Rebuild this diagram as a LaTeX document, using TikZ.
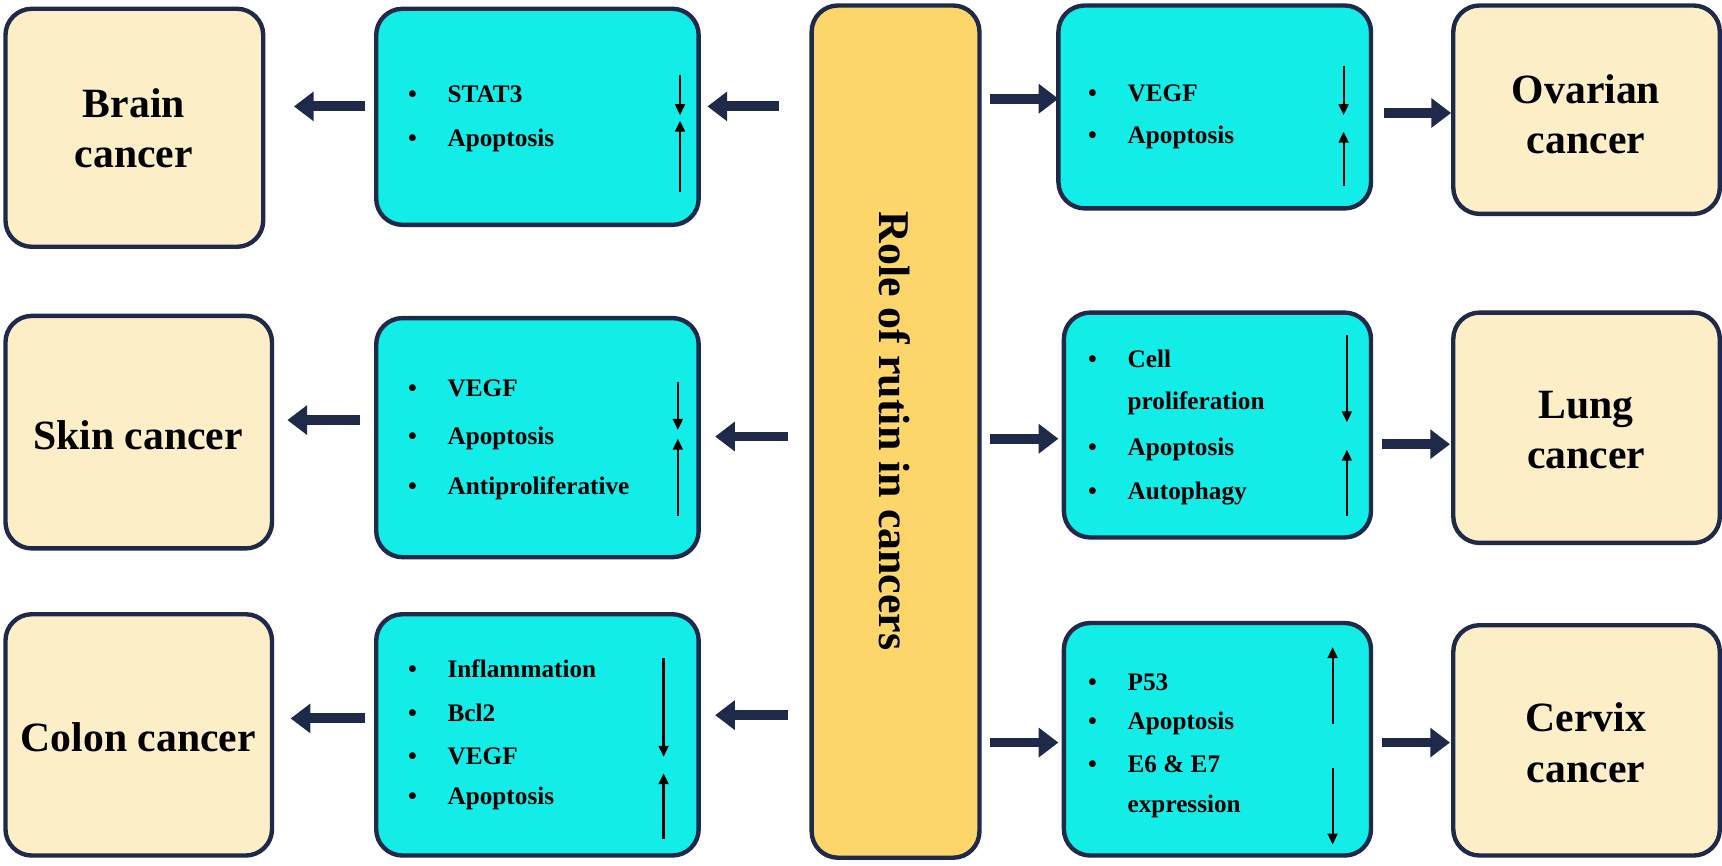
\documentclass[tikz,border=0pt]{standalone}
\usepackage{fontspec}
\setmainfont{Liberation Serif}
\usetikzlibrary{arrows.meta}
\definecolor{cy}{HTML}{12EDE8}
\definecolor{bg}{HTML}{FCEFC8}
\definecolor{ct}{HTML}{FCD66B}
\definecolor{bd}{HTML}{1F2A4A}
\begin{document}
\begin{tikzpicture}[x=0.5pt,y=-0.5pt,
 box/.style={draw=bd,line width=2pt,rounded corners=12pt},
 big/.style={font=\fontsize{19}{23}\selectfont\bfseries,align=center},
 sm/.style={font=\fontsize{11.5}{13}\selectfont\bfseries,anchor=west},
 blk/.style={draw=bd,line width=4.5pt,-{Triangle[length=9pt,width=13pt]}},
 ud/.style={draw=black,line width=1pt,-{Triangle[length=5pt,width=4.5pt]}}]
\useasboundingbox (0,0) rectangle (1570,789);
% beige boxes
\fill[bg,box] (5,8) rectangle (240,225); \node[big] (brain) at (122,117) {Brain\\cancer};
\fill[bg,box] (5,288) rectangle (248,500); \node[big] (skin) at (126,397) {Skin cancer};
\fill[bg,box] (5,560) rectangle (248,780); \node[big] (colon) at (126,672) {Colon cancer};
\fill[bg,box] (1325,5) rectangle (1568,195); \node[big] (ovar) at (1446,104) {Ovarian\\cancer};
\fill[bg,box] (1325,285) rectangle (1568,495); \node[big] (lung) at (1446,392) {Lung\\cancer};
\fill[bg,box] (1325,570) rectangle (1568,780); \node[big] (cerv) at (1446,677) {Cervix\\cancer};
% center
\fill[ct,box] (740,5) rectangle (893,782);
\node[font=\fontsize{20}{24}\selectfont\bfseries,rotate=-90] (role) at (816,393) {Role of rutin in cancers};
% cyan boxes
\fill[cy,box] (343,8) rectangle (637,205);
\fill[cy,box] (343,290) rectangle (637,508);
\fill[cy,box] (343,560) rectangle (637,780);
\fill[cy,box] (965,5) rectangle (1250,190);
\fill[cy,box] (970,285) rectangle (1250,490);
\fill[cy,box] (970,568) rectangle (1250,780);
% texts
\foreach \t/\y in {STAT3/86,Apoptosis/128}{\node[sm] at (365,\y) {•\hspace{14pt}\t};}
\foreach \t/\y in {VEGF/354,Apoptosis/400,Antiproliferative/445}{\node[sm] at (365,\y) {•\hspace{14pt}\t};}
\foreach \t/\y in {Inflammation/610,Bcl2/650,VEGF/690,Apoptosis/728}{\node[sm] at (365,\y) {•\hspace{14pt}\t};}
\foreach \t/\y in {VEGF/85,Apoptosis/125}{\node[sm] at (985,\y) {•\hspace{14pt}\t};}
\foreach \t/\y in {Apoptosis/410,Autophagy/450}{\node[sm] at (985,\y) {•\hspace{14pt}\t};}
\node[sm] at (985,327) {•\hspace{14pt}Cell};
\node[sm] at (985,368) {\phantom{•}\hspace{14pt}proliferation};
\foreach \t/\y in {P53/622,Apoptosis/660}{\node[sm] at (985,\y) {•\hspace{14pt}\t};}
\node[sm] at (985,697) {•\hspace{14pt}E6 \& E7};
\node[sm] at (985,735) {\phantom{•}\hspace{14pt}expression};
% up/down arrows
\coordinate (a1) at (620,68); \coordinate (a2) at (620,105); \draw[ud] (a1)--(a2);
\coordinate (a3) at (620,175); \coordinate (a4) at (620,110); \draw[ud] (a3)--(a4);
\coordinate (b1) at (618,348); \coordinate (b2) at (618,392); \draw[ud] (b1)--(b2);
\coordinate (b3) at (618,470); \coordinate (b4) at (618,400); \draw[ud] (b3)--(b4);
\coordinate (c1) at (605,600); \coordinate (c2) at (605,690); \draw[ud] (c1)--(c2);
\coordinate (c3) at (605,765); \coordinate (c4) at (605,705); \draw[ud] (c3)--(c4);
\coordinate (d1) at (1225,60); \coordinate (d2) at (1225,105); \draw[ud] (d1)--(d2);
\coordinate (d3) at (1225,170); \coordinate (d4) at (1225,120); \draw[ud] (d3)--(d4);
\coordinate (e1) at (1228,305); \coordinate (e2) at (1228,385); \draw[ud] (e1)--(e2);
\coordinate (e3) at (1228,470); \coordinate (e4) at (1228,410); \draw[ud] (e3)--(e4);
\coordinate (f1) at (1215,660); \coordinate (f2) at (1215,590); \draw[ud] (f1)--(f2);
\coordinate (f3) at (1215,700); \coordinate (f4) at (1215,770); \draw[ud] (f3)--(f4);
% block arrows
\foreach \xa/\xb/\y in {333/268/97, 710/645/97, 328/262/383, 718/652/398, 333/265/655, 718/652/652,
 903/965/90, 1262/1323/103, 903/965/400, 1260/1322/405, 903/965/677, 1260/1322/677}{
 \coordinate (s) at (\xa,\y); \coordinate (t) at (\xb,\y); \draw[blk] (s)--(t);}
\end{tikzpicture}
\end{document}
